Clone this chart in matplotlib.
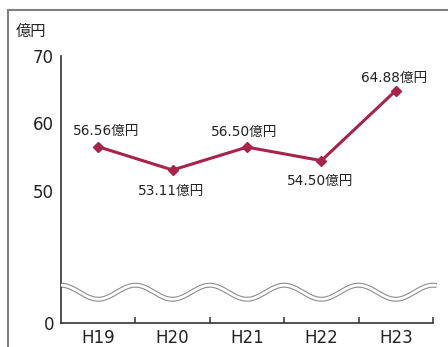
import numpy as np
from matplotlib import pyplot as plt
from matplotlib.lines import Line2D
import matplotlib as mpl

# data
years = ["H19", "H20", "H21", "H22", "H23"]
values = [56.56, 53.11, 56.50, 54.50, 64.88]
value_labels = ["56.56億円", "53.11億円", "56.50億円", "54.50億円", "64.88億円"]
# label offsets in points (above / below the marker)
label_offsets = [(6, 11), (-1, -15), (-2, 11), (-1, -15), (-1, 9)]

# broken axis: "0" sits this far below 50 on the linear scale
Y_ZERO = 30.44
y_ticks = [Y_ZERO, 50, 60, 70]
y_ticklabels = ["0", "50", "60", "70"]

FONT = ["DejaVu Sans", "Noto Sans CJK JP"]
LINE_COLOR = "#A8234A"
AXIS_COLOR = "#333333"

mpl.rcParams.update({
    "font.family": FONT,
    "figure.facecolor": "white",
})

fig = plt.figure(figsize=(4.48, 3.47), dpi=100)
ax = fig.add_axes([61 / 448, 1 - 323 / 347, 372 / 448, 267 / 347])

x = np.arange(len(years))
ax.plot(x, values, color=LINE_COLOR, linewidth=2.2, marker="D",
        markersize=5, zorder=4)

for xi, v, lab, (dx, dy) in zip(x, values, value_labels, label_offsets):
    ax.annotate(lab, (xi, v), xytext=(dx, dy), textcoords="offset points",
                ha="center", va="center", fontsize=9.8, color="#222222",
                family=FONT)

# wavy break marker (double gray line), crests at the category boundaries
wx = np.linspace(-0.5, 4.55, 400)
wy = 35.0 + 1.04 * np.cos(2 * np.pi * (wx - 0.5))
ax.plot(wx, wy, color="#8C8C8C", linewidth=3.6, clip_on=False, zorder=2,
        solid_capstyle="butt")
ax.plot(wx, wy, color="white", linewidth=2.0, clip_on=False, zorder=3,
        solid_capstyle="butt")

ax.set_xlim(-0.5, len(years) - 0.5)
ax.set_ylim(Y_ZERO, 70)

ax.set_xticks(x)
ax.set_xticklabels(years, fontsize=12)
ax.set_xticks(np.arange(len(years)) + 0.5, minor=True)
ax.tick_params(axis="x", which="major", length=0, pad=4, colors="#222222")
ax.tick_params(axis="x", which="minor", direction="in", length=4,
               width=1.1, color=AXIS_COLOR)

ax.set_yticks(y_ticks)
ax.set_yticklabels(y_ticklabels, fontsize=12)
ax.set_yticks([70], minor=True)
ax.tick_params(axis="y", which="major", length=0, pad=5, colors="#222222")
ax.tick_params(axis="y", which="minor", direction="in", length=5,
               width=1.1, color=AXIS_COLOR)

for side in ("top", "right"):
    ax.spines[side].set_visible(False)
for side in ("left", "bottom"):
    ax.spines[side].set_color(AXIS_COLOR)
    ax.spines[side].set_linewidth(1.2)

# unit label
fig.text(16 / 448, 1 - 31 / 347, "億円", fontsize=11, ha="left",
         va="center", color="#222222", family=FONT)

# outer frame (left and top edges of the panel)
frame_kw = dict(color="#808080", linewidth=1.5, transform=fig.transFigure)
fig.add_artist(Line2D([8 / 448, 8 / 448], [0, 1 - 10 / 347], **frame_kw))
fig.add_artist(Line2D([8 / 448, 1], [1 - 10 / 347, 1 - 10 / 347], **frame_kw))

fig.savefig("out.png", dpi=100)
